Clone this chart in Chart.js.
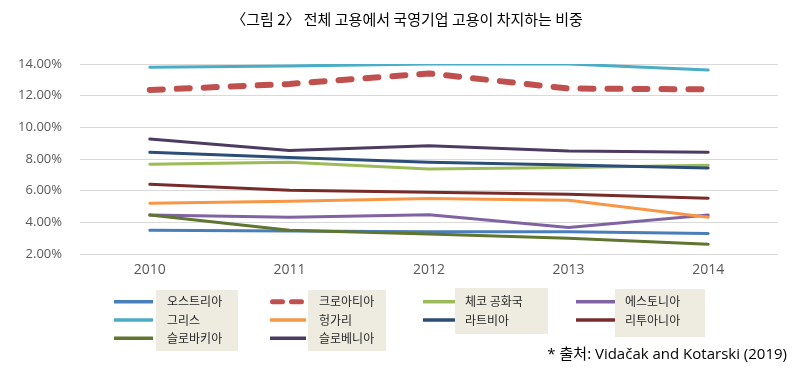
<!DOCTYPE html>
<html><head><meta charset="utf-8">
<script src="https://cdn.jsdelivr.net/npm/chart.js@4.4.1/dist/chart.umd.min.js"></script>
<style>html,body{margin:0;padding:0;background:#fff;} #wrap{position:relative;width:799px;height:381px;}</style>
</head><body><div id="wrap"><canvas id="c" width="799" height="381"></canvas></div>
<script>
const years = ['2010','2011','2012','2013','2014'];
const names = ['오스트리아','크로아티아','체코 공화국','에스토니아','그리스','헝가리','라트비아','리투아니아','슬로바키아','슬로베니아'];
const austria = [3.50,3.45,3.41,3.40,3.30];
const croatia = [12.36,12.74,13.40,12.45,12.40];
const czech = [7.67,7.80,7.37,7.47,7.60];
const estonia = [4.46,4.32,4.48,3.68,4.46];
const greece = [13.80,13.88,14.00,14.00,13.62];
const hungary = [5.20,5.33,5.50,5.39,4.32];
const latvia = [8.42,8.10,7.80,7.62,7.43];
const lithuania = [6.40,6.02,5.90,5.77,5.52];
const slovakia = [4.46,3.50,3.26,2.99,2.61];
const slovenia = [9.26,8.53,8.84,8.50,8.42];
const yTicks = [2,4,6,8,10,12,14];
const titleText = '〈그림 2〉 전체 고용에서 국영기업 고용이 차지하는 비중';
const sourceText = '* 출처: Vidačak and Kotarski (2019)';

const seriesValues = [austria,croatia,czech,estonia,greece,hungary,latvia,lithuania,slovakia,slovenia];
const colors = ['#4A7EBB','#C0504D','#9BBB59','#8064A2','#4BACC6','#F79646','#2C4D75','#772C2A','#5F7530','#4D3B62'];
const FONT = '"Noto Sans CJK KR", "Noto Sans", sans-serif';
const LATIN_FONT = '"Open Sans", "Noto Sans CJK KR", sans-serif';

const datasets = seriesValues.map((v,i)=>{
  const ds = {label:names[i], data:v, borderColor:colors[i], backgroundColor:colors[i],
    borderWidth:3, pointRadius:0, tension:0, fill:false, order:10-i, borderCapStyle:'round', borderJoinStyle:'round'};
  if(i===1){ ds.borderWidth=6; ds.borderDash=[13,14]; }
  return ds;
});

const legendCols = [
  {items:[0,4,8], lx0:114, lx1:153, box:[156,290,82,61], tx:167},
  {items:[1,5,9], lx0:270, lx1:306, box:[308,290,78,61], tx:319},
  {items:[2,6],   lx0:423, lx1:455, box:[455,288,93,46], tx:465},
  {items:[3,7],   lx0:576, lx1:615, box:[615,289,90,48], tx:625}
];
const rowY = [301.7,320,338.3];

const extras = {
  id:'extras',
  afterDraw(chart){
    const ctx = chart.ctx;
    ctx.save();
    ctx.fillStyle = '#000';
    ctx.font = '15px ' + FONT;
    ctx.textAlign = 'center';
    ctx.textBaseline = 'middle';
    ctx.fillText(titleText, 407, 19);
    legendCols.forEach(col=>{
      ctx.fillStyle = '#EEECE1';
      ctx.fillRect(col.box[0],col.box[1],col.box[2],col.box[3]);
      col.items.forEach((idx,r)=>{
        const y = rowY[r];
        ctx.beginPath();
        ctx.strokeStyle = colors[idx];
        if(idx===1){
          ctx.lineWidth = 5; ctx.lineCap='round'; ctx.setLineDash([10,9]);
          ctx.moveTo(col.lx0+2.5,y); ctx.lineTo(col.lx1,y);
        } else {
          ctx.lineWidth = 3.5; ctx.lineCap='butt'; ctx.setLineDash([]);
          ctx.moveTo(col.lx0,y); ctx.lineTo(col.lx1,y);
        }
        ctx.stroke();
        ctx.setLineDash([]);
        ctx.fillStyle = '#262626';
        ctx.font = '12px ' + FONT;
        ctx.textAlign = 'left';
        ctx.textBaseline = 'middle';
        ctx.fillText(names[idx], col.tx, y);
      });
    });
    ctx.fillStyle = '#000';
    ctx.font = '15px ' + LATIN_FONT;
    ctx.textAlign = 'right';
    ctx.textBaseline = 'middle';
    ctx.fillText(sourceText, 787, 355);
    ctx.restore();
  }
};

new Chart(document.getElementById('c'), {
  type:'line',
  data:{labels:years, datasets},
  options:{
    responsive:false, animation:false,
    layout:{padding:{top:64,right:21,bottom:0,left:0}},
    plugins:{legend:{display:false}, title:{display:false}, tooltip:{enabled:false}},
    scales:{
      x:{
        offset:true,
        grid:{display:false, drawTicks:false},
        border:{display:false},
        ticks:{color:'#595959', font:{family:LATIN_FONT,size:14}, padding:8},
        afterFit(s){ s.height = 127; }
      },
      y:{
        min:2, max:14,
        afterBuildTicks(s){ s.ticks = yTicks.map(v=>({value:v})); },
        grid:{color:'#D9D9D9', lineWidth:1, drawTicks:false},
        border:{display:false},
        ticks:{color:'#595959', font:{family:LATIN_FONT,size:13}, padding:18, callback:v=>v.toFixed(2)+'%'},
        afterFit(s){ s.width = 80; }
      }
    }
  },
  plugins:[extras]
});
</script></body></html>
